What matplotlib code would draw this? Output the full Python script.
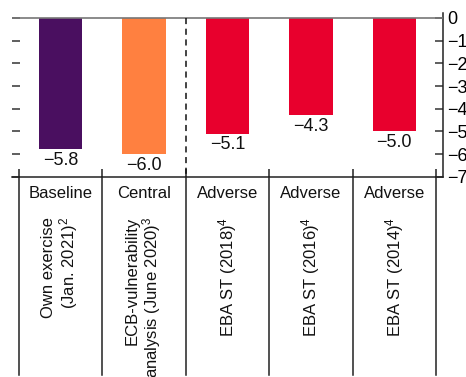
import numpy as np
import matplotlib
matplotlib.use("Agg")
import matplotlib.pyplot as plt

plt.rcParams['font.family'] = ['Liberation Sans', 'DejaVu Sans']
plt.rcParams['mathtext.fontset'] = 'custom'
plt.rcParams['mathtext.rm'] = 'Liberation Sans'
plt.rcParams['mathtext.it'] = 'Liberation Sans:italic'
plt.rcParams['mathtext.bf'] = 'Liberation Sans:bold'

# data
scenarios = ['Baseline', 'Central', 'Adverse', 'Adverse', 'Adverse']
exercises = ['Own exercise\n(Jan. 2021)$^\\mathrm{2}$',
             'ECB-vulnerability\nanalysis (June 2020)$^\\mathrm{3}$',
             'EBA ST (2018)$^\\mathrm{4}$',
             'EBA ST (2016)$^\\mathrm{4}$',
             'EBA ST (2014)$^\\mathrm{4}$']
values = [-5.8, -6.0, -5.1, -4.3, -5.0]
colors = ['#4a0f60', '#ff8040', '#e8002d', '#e8002d', '#e8002d']
yticks = [0, -1, -2, -3, -4, -5, -6, -7]
ytick_labels = ['0', '−1', '−2', '−3', '−4', '−5', '−6', '−7']

fig = plt.figure(figsize=(4.66, 3.77), dpi=100)
ax = fig.add_axes([12/466, 1 - 176.7/377, 431/466, 163.7/377])

x = np.arange(len(values))
ax.bar(x, values, width=0.52, color=colors, zorder=2)
ax.axhline(0, color='#777777', lw=1.2, zorder=3)

for xi, v in zip(x, values):
    ax.text(xi, v - 0.12, f'{v:.1f}'.replace('-', '−'), ha='center', va='top',
            fontsize=13, color='#111111')

ax.set_xlim(-0.584, 4.584)
ax.set_ylim(-7, 0.22)

# dashed separator
ax.plot([1.5, 1.5], [0, -7], ls=(0, (4, 3)), color='#111111', lw=1.1, zorder=3)

# spines
for s in ['top', 'left']:
    ax.spines[s].set_visible(False)
for s in ['right', 'bottom']:
    ax.spines[s].set_linewidth(1.1)
    ax.spines[s].set_color('#222222')

# y ticks on right with labels, plus inner ticks on left
ax.yaxis.tick_right()
ax.set_yticks(yticks)
ax.set_yticklabels(ytick_labels)
ax.tick_params(axis='y', which='both', direction='in', length=6, width=1.1,
               color='#333333', labelsize=13, pad=3, left=True, right=True,
               labelleft=False, labelright=True)

boundaries = np.arange(-0.5, 5.0, 1.0)
ax.set_xticks(boundaries)
ax.set_xticklabels([])
ax.tick_params(axis='x', direction='in', length=6, width=1.1, color='#222222')

# table below the axes
tr = ax.get_xaxis_transform()
for b in boundaries:
    ax.plot([b, b], [0, -1.21], transform=tr, color='#222222', lw=1.1,
            clip_on=False)

for xi, sc, ex in zip(x, scenarios, exercises):
    ax.text(xi, -0.10, sc, transform=tr, ha='center', va='center',
            fontsize=12, color='#111111')
    ax.text(xi, -0.245, ex, transform=tr, ha='center', va='top',
            rotation=90, multialignment='right', fontsize=12,
            color='#111111', linespacing=1.05)

fig.savefig('out.png', dpi=100)
